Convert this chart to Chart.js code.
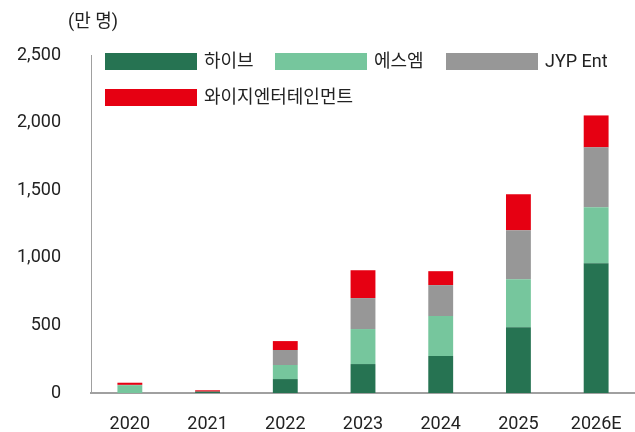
<!DOCTYPE html>
<html>
<head>
<meta charset="utf-8">
<script src="https://cdn.jsdelivr.net/npm/chart.js@4"></script>
<style>
  html, body { margin: 0; padding: 0; background: #fff; }
  #grafico { display: block; }
</style>
</head>
<body>
<canvas id="grafico" width="635" height="432"></canvas>
<script>
const anios = ["2020", "2021", "2022", "2023", "2024", "2025", "2026E"];
const hybe = [0, 10, 103, 214, 273, 487, 960];
const sm = [58, 0, 104, 259, 296, 355, 414];
const jyp = [2, 0, 111, 229, 229, 362, 443];
const yg = [16, 10, 66, 206, 103, 266, 236];
const ticksY = [0, 500, 1000, 1500, 2000, 2500];

const nombres = ["하이브", "에스엠", "JYP Ent", "와이지엔터테인먼트"];
const colores = ["#267352", "#76c69d", "#979797", "#e60012"];
const fuente = "Roboto, 'Noto Sans CJK KR', sans-serif";

// leyenda y unidad dibujadas a mano (la leyenda del original va en rejilla fija)
const extras = {
  id: "extras",
  afterDraw(chart) {
    const ctx = chart.ctx;
    ctx.save();
    ctx.font = "18px " + fuente;
    ctx.fillStyle = "#222";
    ctx.textBaseline = "middle";
    ctx.textAlign = "left";
    ctx.fillText("(만 명)", 68, 22);
    const pos = [[105, 53], [275, 53], [446, 53], [105, 89]];
    chart.data.datasets.forEach((ds, i) => {
      const [x, y] = pos[i];
      ctx.fillStyle = ds.backgroundColor;
      ctx.fillRect(x, y, 92, 17);
      ctx.fillStyle = "#222";
      ctx.fillText(ds.label, x + 99, y + 9);
    });
    ctx.restore();
  },
};

const series = [hybe, sm, jyp, yg];

new Chart(document.getElementById("grafico"), {
  type: "bar",
  data: {
    labels: anios,
    datasets: series.map((datos, i) => ({
      label: nombres[i],
      data: datos,
      backgroundColor: colores[i],
      borderWidth: 0,
      categoryPercentage: 1,
      barPercentage: 0.32,
    })),
  },
  options: {
    responsive: false,
    animation: false,
    devicePixelRatio: 1,
    layout: { padding: { top: 55, right: 0, left: 0, bottom: 0 } },
    plugins: { legend: { display: false }, tooltip: { enabled: false } },
    scales: {
      x: {
        stacked: true,
        grid: { display: false, drawTicks: false },
        border: { display: true, color: "#a0a0a0", width: 2 },
        ticks: { color: "#222", font: { family: fuente, size: 18 }, padding: 21, maxRotation: 0 },
        afterFit(scale) {
          scale.height = 39;
          scale.paddingRight = 0;
        },
      },
      y: {
        stacked: true,
        min: 0,
        max: 2500,
        afterBuildTicks(scale) { scale.ticks = ticksY.map((v) => ({ value: v })); },
        grid: { display: false, drawTicks: false },
        border: { display: true, color: "#a0a0a0", width: 1 },
        ticks: {
          color: "#222",
          font: { family: fuente, size: 18 },
          padding: 30,
          callback: (v) => Number(v).toLocaleString("en-US"),
        },
        afterFit(scale) {
          scale.width = 91;
          // el padding de las etiquetas no debe empujar el área del gráfico
          scale.paddingTop = 0;
          scale.paddingBottom = 0;
        },
      },
    },
  },
  plugins: [extras],
});
</script>
</body>
</html>
